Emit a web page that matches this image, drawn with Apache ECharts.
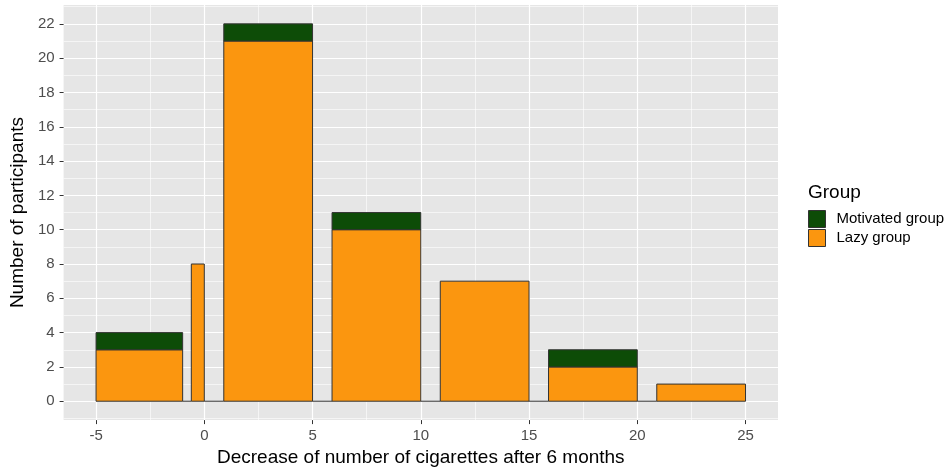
<!DOCTYPE html>
<html>
<head>
<meta charset="utf-8">
<script src="https://cdn.jsdelivr.net/npm/echarts@6/dist/echarts.min.js"></script>
<style>html,body{margin:0;padding:0;background:#fff}#c{width:948px;height:472px}</style>
</head>
<body>
<div id="c"></div>
<script>
// Histogram bins (decrease of cigarettes)
const binStart = [-5, -1, -0.6, 0, 0.9, 5, 5.9, 10, 10.9, 15, 15.9, 20, 20.9];
const binEnd   = [-1, -0.6, 0, 0.9, 5, 5.9, 10, 10.9, 15, 15.9, 20, 20.9, 25];
const lazyCounts      = [3, 0, 8, 0, 21, 0, 10, 0, 7, 0, 2, 0, 1];
const motivatedCounts = [1, 0, 0, 0, 1, 0, 1, 0, 0, 0, 1, 0, 0];
const xTicks = [-5, 0, 5, 10, 15, 20, 25];
const xMinor = [-2.5, 2.5, 7.5, 12.5, 17.5, 22.5];
const yTicks = [0, 2, 4, 6, 8, 10, 12, 14, 16, 18, 20, 22];
const yMinor = [-1, 1, 3, 5, 7, 9, 11, 13, 15, 17, 19, 21, 23];
const groupNames = ['Motivated group', 'Lazy group'];

const lazyData = binStart.map((s, i) => [s, binEnd[i], 0, lazyCounts[i]]);
const motData = [];
binStart.forEach((s, i) => {
  if (motivatedCounts[i] > 0) motData.push([s, binEnd[i], lazyCounts[i], lazyCounts[i] + motivatedCounts[i]]);
});

function renderItem(params, api) {
  const x0 = api.value(0), x1 = api.value(1), y0 = api.value(2), y1 = api.value(3);
  const p0 = api.coord([x0, y0]);
  const p1 = api.coord([x1, y1]);
  if (y1 === y0) {
    return {type: 'line', shape: {x1: p0[0], y1: p0[1], x2: p1[0], y2: p1[1]},
            style: {stroke: '#333', lineWidth: 1}};
  }
  return {type: 'rect',
          shape: {x: p0[0], y: p1[1], width: p1[0] - p0[0], height: p0[1] - p1[1]},
          style: {fill: api.visual('color'), stroke: '#333', lineWidth: 1}};
}

const FONT = 'Liberation Sans, Arial, sans-serif';
const chart = echarts.init(document.getElementById('c'), null, {renderer: 'canvas'});
chart.setOption({
  animation: false,
  backgroundColor: '#fff',
  title: {text: 'Group', left: 808, top: 183, padding: 0,
          textStyle: {fontFamily: FONT, fontSize: 19, fontWeight: 'normal', color: '#000'}},
  legend: {
    data: groupNames, orient: 'vertical', left: 808, top: 210, padding: 0,
    icon: 'rect', itemWidth: 17, itemHeight: 17, itemGap: 1,
    itemStyle: {borderColor: '#333', borderWidth: 1},
    textStyle: {fontFamily: FONT, fontSize: 15, color: '#000', padding: [0, 0, 0, 6]}
  },
  grid: {left: 62, right: 170, top: 5, bottom: 51, containLabel: false,
         show: true, backgroundColor: '#E6E6E6', borderWidth: 0},
  xAxis: [{
    type: 'value', min: -6.5, max: 26.5, position: 'bottom',
    name: 'Decrease of number of cigarettes after 6 months', nameLocation: 'middle', nameGap: 27,
    nameTextStyle: {fontFamily: FONT, fontSize: 19, color: '#000'},
    axisLine: {show: false, onZero: false},
    axisTick: {show: true, length: 4, lineStyle: {color: '#333'}, customValues: xTicks},
    axisLabel: {customValues: xTicks, fontFamily: FONT, fontSize: 15, color: '#4D4D4D', margin: 8},
    splitLine: {show: true, lineStyle: {color: '#fff', width: 1.2}}
  }, {
    type: 'value', min: -6.5, max: 26.5, position: 'bottom',
    axisLine: {show: false, onZero: false}, axisLabel: {show: false},
    axisTick: {show: false, customValues: xMinor},
    splitLine: {show: true, lineStyle: {color: '#fff', width: 0.6}}
  }],
  yAxis: [{
    type: 'value', min: -1.1, max: 23.1, position: 'left',
    name: 'Number of participants', nameLocation: 'middle', nameGap: 29, nameRotate: 90,
    nameTextStyle: {fontFamily: FONT, fontSize: 19, color: '#000'},
    axisLine: {show: false, onZero: false},
    axisTick: {show: true, length: 4, lineStyle: {color: '#333'}, customValues: yTicks},
    axisLabel: {customValues: yTicks, fontFamily: FONT, fontSize: 15, color: '#4D4D4D', margin: 9},
    splitLine: {show: true, lineStyle: {color: '#fff', width: 1.2}}
  }, {
    type: 'value', min: -1.1, max: 23.1, position: 'left',
    axisLine: {show: false, onZero: false}, axisLabel: {show: false},
    axisTick: {show: false, customValues: yMinor},
    splitLine: {show: true, lineStyle: {color: '#fff', width: 0.6}}
  }],
  series: [{
    name: 'Lazy group', type: 'custom', renderItem: renderItem,
    itemStyle: {color: '#FB960F'}, encode: {x: [0, 1], y: [2, 3]},
    data: lazyData, z: 3
  }, {
    name: 'Motivated group', type: 'custom', renderItem: renderItem,
    itemStyle: {color: '#0D4C07'}, encode: {x: [0, 1], y: [2, 3]},
    data: motData, z: 3
  }]
});
</script>
</body>
</html>
